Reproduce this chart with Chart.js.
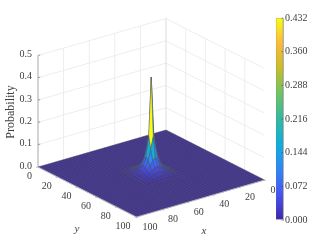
<!DOCTYPE html>
<html><head><meta charset="utf-8">
<style>html,body{margin:0;padding:0;background:#fff;overflow:hidden}
canvas{position:absolute;display:block}
#main{left:0;top:0}#bar{left:276px;top:10px}</style>
<script src="https://cdn.jsdelivr.net/npm/chart.js@4"></script>
</head><body>
<canvas id="main" width="319" height="246"></canvas>
<canvas id="bar" width="43" height="218"></canvas>
<script>
const xTicks=[0,20,40,60,80,100];
const yTicks=[0,20,40,60,80,100];
const zTicks=[0,0.1,0.2,0.3,0.4,0.5];
const colorbarTicks=[0,0.072,0.144,0.216,0.288,0.36,0.432];
const colorMax=0.432;
const peakX=[36,38,40,42,44,46,48,50,52,54,56,58,60,62,64];
const peakY=[36,38,40,42,44,46,48,50,52,54,56,58,60,62,64];
const peakProbability=[
[.001,.001,.002,.003,.003,.004,.005,.005,.005,.004,.003,.003,.002,.001,.001],
[.001,.002,.004,.005,.007,.008,.009,.010,.009,.008,.007,.005,.004,.002,.001],
[.002,.004,.006,.009,.011,.014,.015,.016,.015,.014,.011,.009,.006,.004,.002],
[.003,.005,.009,.013,.018,.023,.026,.028,.026,.023,.018,.013,.009,.005,.003],
[.003,.007,.011,.018,.026,.034,.042,.046,.042,.034,.026,.018,.011,.007,.003],
[.004,.008,.014,.023,.034,.050,.070,.080,.070,.050,.034,.023,.014,.008,.004],
[.005,.009,.015,.026,.042,.070,.115,.170,.115,.070,.042,.026,.015,.009,.005],
[.005,.010,.016,.028,.046,.080,.170,.432,.170,.080,.046,.028,.016,.010,.005],
[.005,.009,.015,.026,.042,.070,.115,.170,.115,.070,.042,.026,.015,.009,.005],
[.004,.008,.014,.023,.034,.050,.070,.080,.070,.050,.034,.023,.014,.008,.004],
[.003,.007,.011,.018,.026,.034,.042,.046,.042,.034,.026,.018,.011,.007,.003],
[.003,.005,.009,.013,.018,.023,.026,.028,.026,.023,.018,.013,.009,.005,.003],
[.002,.004,.006,.009,.011,.014,.015,.016,.015,.014,.011,.009,.006,.004,.002],
[.001,.002,.004,.005,.007,.008,.009,.010,.009,.008,.007,.005,.004,.002,.001],
[.001,.001,.002,.003,.003,.004,.005,.005,.005,.004,.003,.003,.002,.001,.001]];
const paletteStops=[0,.125,.25,.375,.5,.625,.75,.875,1];
const paletteColors=[[62,38,168],[72,82,244],[46,135,247],[14,174,220],[51,184,161],[110,195,100],[200,190,40],[252,186,61],[249,251,21]];

const back={px:166,py:130},perX={px:-1.28,py:.37},perY={px:.985,py:.5},perZ=223;
function project(x,y,z){return {x:back.px+perX.px*x+perY.px*y,y:back.py+perX.py*x+perY.py*y-perZ*z};}
function colorOf(v){
  const t=Math.min(1,Math.max(0,v/colorMax));
  let i=0;while(i<paletteStops.length-2&&t>paletteStops[i+1])i++;
  const f=(t-paletteStops[i])/(paletteStops[i+1]-paletteStops[i]);
  const a=paletteColors[i],b=paletteColors[i+1];
  return `rgb(${a.map((c,k)=>Math.round(c+(b[k]-c)*f)).join(',')})`;
}
const sets=[];
function seg(points,color,width){sets.push({data:points,borderColor:color,borderWidth:width,pointRadius:0,fill:false,tension:0});}
function poly(points,fillColor,edge,width){sets.push({data:points.concat([points[0]]),backgroundColor:fillColor,borderColor:edge,borderWidth:width,pointRadius:0,fill:'shape',tension:0});}

const wallGrid='#ededed';
zTicks.forEach(z=>{
  seg([project(100,0,z),project(0,0,z),project(0,100,z)],wallGrid,1);
});
xTicks.slice(1,-1).forEach(x=>seg([project(x,0,0),project(x,0,.5)],wallGrid,1));
yTicks.slice(1,-1).forEach(y=>seg([project(0,y,0),project(0,y,.5)],wallGrid,1));
seg([project(0,0,0),project(0,0,.5)],'#dcdcdc',1);
seg([project(100,0,0),project(100,0,.5)],'#a8a8a8',1);
zTicks.forEach(z=>seg([project(100,0,z),project(98.3,0,z)],'#888',.8));

poly([project(0,0,0),project(100,0,0),project(100,100,0),project(0,100,0)],colorOf(0),'rgba(0,0,0,0)',0);
const meshColor='rgba(82,88,92,.72)';
for(let s=0;s<=100;s+=2){
  seg([project(s,0,0),project(s,100,0)],meshColor,.6);
  seg([project(0,s,0),project(100,s,0)],meshColor,.6);
}
seg([project(100,0,0),project(100,100,0),project(0,100,0)],'#c4c4cc',.8);
xTicks.forEach(x=>seg([project(x,100,0),project(x,101.5,0)],'#999',.6));
yTicks.forEach(y=>seg([project(100,y,0),project(101.5,y,0)],'#999',.6));

const cells=[];
for(let i=0;i<peakX.length-1;i++)for(let j=0;j<peakY.length-1;j++)cells.push([i,j]);
cells.sort((a,b)=>(a[0]+a[1])-(b[0]+b[1]));
cells.forEach(([i,j])=>{
  const z=peakProbability;
  poly([project(peakX[i],peakY[j],z[i][j]),project(peakX[i+1],peakY[j],z[i+1][j]),
        project(peakX[i+1],peakY[j+1],z[i+1][j+1]),project(peakX[i],peakY[j+1],z[i][j+1])],
       colorOf(z[i][j]),meshColor,.6);
});
sets.forEach((d,k)=>{d.order=sets.length-k;});

const serif='"Liberation Serif","Times New Roman",serif';
const labelsPlugin={id:'axisText',afterDraw(chart){
  const c=chart.ctx,sx=chart.scales.x,sy=chart.scales.y;
  const at=(p)=>({x:sx.getPixelForValue(p.x),y:sy.getPixelForValue(p.y)});
  c.save();c.fillStyle='#404040';c.font='10px '+serif;c.textBaseline='middle';
  c.textAlign='right';
  zTicks.forEach(z=>{const p=at(project(100,0,z));c.fillText(z.toFixed(1),p.x-6,p.y-1);});
  yTicks.forEach(y=>{const p=at(project(100,y,0));c.fillText(String(y),p.x-6,p.y+9.5);});
  c.textAlign='left';
  xTicks.forEach(x=>{const p=at(project(x,100,0));c.fillText(String(x),p.x+6,p.y+10);});
  c.font='italic 11px '+serif;c.textAlign='center';
  c.fillText('y',77,229);c.fillText('x',204,231);
  c.font='12px '+serif;c.translate(11,112);c.rotate(-Math.PI/2);c.fillText('Probability',0,0);
  c.restore();
}};
new Chart(document.getElementById('main'),{
  type:'line',data:{datasets:sets},plugins:[labelsPlugin],
  options:{responsive:false,animation:false,events:[],parsing:true,
    layout:{padding:0},
    plugins:{legend:{display:false},tooltip:{enabled:false},filler:{propagate:false}},
    scales:{x:{type:'linear',min:0,max:319,display:false},y:{type:'linear',min:0,max:246,reverse:true,display:false}}}
});
const innerTicks={id:'innerTicks',afterDatasetsDraw(chart){
  const c=chart.ctx,s=chart.scales.y,a=chart.chartArea;
  c.save();c.strokeStyle='rgba(50,50,50,.8)';c.lineWidth=.6;
  colorbarTicks.forEach(v=>{const y=s.getPixelForValue(v);c.beginPath();c.moveTo(a.right-1.5,y);c.lineTo(a.right,y);c.stroke();});
  c.restore();
}};
new Chart(document.getElementById('bar'),{
  type:'bar',plugins:[innerTicks],
  data:{labels:['Probability'],datasets:[{data:[colorMax],barPercentage:1,categoryPercentage:1,
    borderWidth:.5,borderColor:'#555',
    backgroundColor(ctx){
      const a=ctx.chart.chartArea;if(!a)return '#000';
      const g=ctx.chart.ctx.createLinearGradient(0,a.bottom,0,a.top);
      paletteStops.forEach((s,i)=>g.addColorStop(s,`rgb(${paletteColors[i].join(',')})`));
      return g;
    }}]},
  options:{responsive:false,animation:false,events:[],
    layout:{padding:{left:0,right:0,top:5,bottom:5}},
    plugins:{legend:{display:false},tooltip:{enabled:false}},
    scales:{
      x:{display:false},
      y:{position:'right',min:0,max:colorMax,
        afterBuildTicks(s){s.ticks=colorbarTicks.map(v=>({value:v}));},
        afterFit(s){s.width=36;},
        grid:{drawOnChartArea:false,drawTicks:false},
        border:{color:'#666',width:.5},
        ticks:{padding:2,color:'#404040',font:{family:serif,size:10},callback:v=>Number(v).toFixed(3),autoSkip:false,maxRotation:0}}
    }}
});
</script></body></html>
